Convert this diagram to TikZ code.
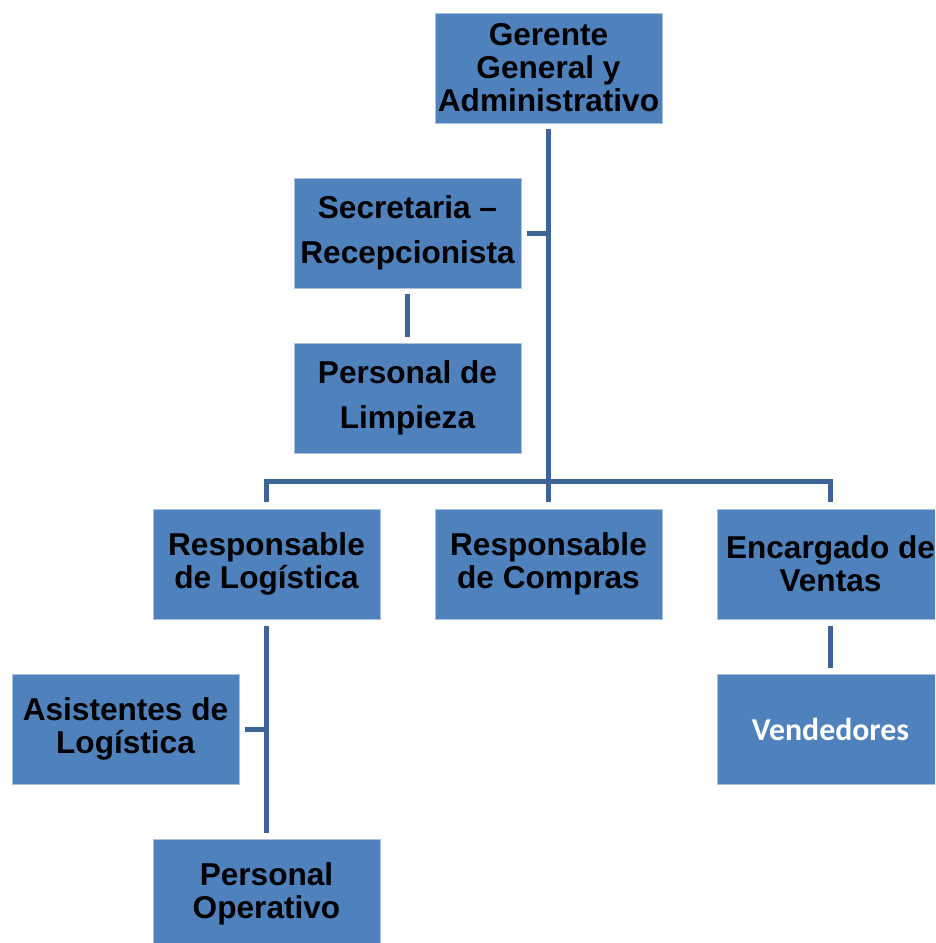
\documentclass[tikz,border=0pt]{standalone}
\usepackage{fontspec}
\setmainfont{Liberation Sans}
\newfontfamily\calfont{Carlito}
\usetikzlibrary{calc}
\definecolor{boxblue}{RGB}{79,129,189}
\definecolor{boxedge}{RGB}{170,195,225}
\definecolor{linkblue}{RGB}{62,100,150}
\tikzset{
  orgbox/.style={rectangle, fill=boxblue, draw=boxedge, line width=1pt,
    minimum width=227pt, minimum height=110pt, inner sep=0pt, align=center,
    font=\fontsize{31.6}{33}\selectfont\bfseries, text=black},
  widebox/.style={orgbox, font=\fontsize{31.6}{45}\selectfont\bfseries},
  whitebox/.style={orgbox, font=\fontsize{31.8}{33}\selectfont\calfont\bfseries, text=white},
  conn/.style={draw=linkblue, line width=5pt, line join=miter}
}
\begin{document}
\begin{tikzpicture}[x=1pt,y=-1pt]
\useasboundingbox (0,0) rectangle (935,943);
\clip (0,0) rectangle (935,943);
\node[orgbox] (ger) at (548.5,68) {Gerente\\General y\\Administrativo};
\node[widebox] (sec) at (407.5,233) {Secretaria –\\Recepcionista};
\node[widebox] (lim) at (407.5,398) {Personal de\\Limpieza};
\node[orgbox] (log) at (266.5,564) {Responsable\\de Logística};
\node[orgbox] (com) at (548.5,564) {Responsable\\de Compras};
\node[orgbox] (enc) at (830.5,564) {Encargado de\\Ventas};
\node[whitebox] (ven) at (830.5,729) {Vendedores};
\node[orgbox] (asi) at (125.5,729) {Asistentes de\\Logística};
\node[orgbox] (ope) at (266.5,894) {Personal\\Operativo};
% main trunk
\draw[conn] ($(ger.south)+(0,5)$) -- ($(com.north)+(0,-7)$);
\draw[conn] ($(sec.east)+(5,0)$) -- (sec.east -| ger.south);
\draw[conn] ($(sec.south)+(0,5)$) -- ($(lim.north)+(0,-6)$);
% bus
\draw[conn] ($(log.north)+(0,-7)$) |- ($(enc.north)+(0,-27)$) -- ($(enc.north)+(0,-7)$);
% logistics branch
\draw[conn] ($(log.south)+(0,6)$) -- ($(ope.north)+(0,-6)$);
\draw[conn] ($(asi.east)+(5,0)$) -- (asi.east -| log.south);
% sales branch
\draw[conn] ($(enc.south)+(0,6)$) -- ($(ven.north)+(0,-6)$);
\end{tikzpicture}
\end{document}
